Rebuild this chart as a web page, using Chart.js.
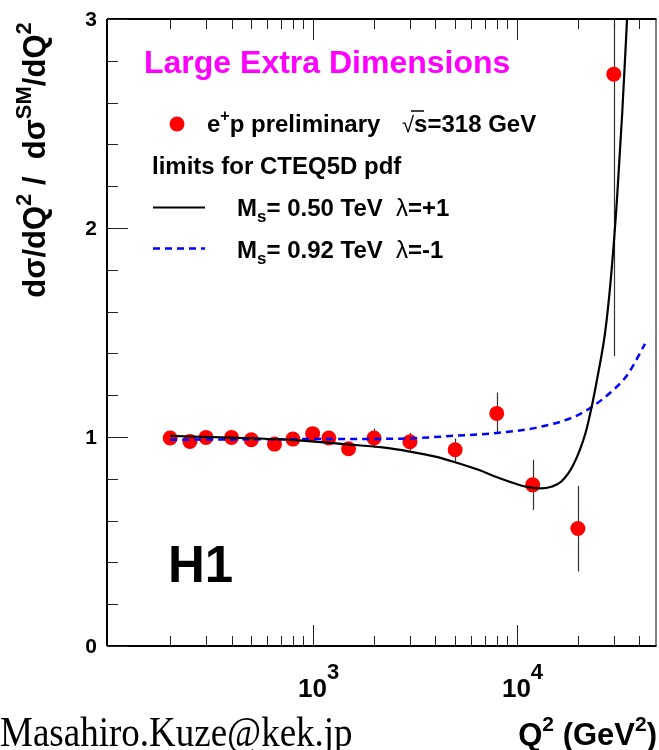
<!DOCTYPE html>
<html>
<head>
<meta charset="utf-8">
<script src="https://cdn.jsdelivr.net/npm/chart.js@4/dist/chart.umd.min.js"></script>
<style>
html,body{margin:0;padding:0;background:#fff;}
#wrap{position:relative;width:659px;height:750px;}
</style>
</head>
<body>
<div id="wrap"><canvas id="c" width="659" height="750"></canvas></div>
<script>
// ---- data ----
const qValues   = [200, 250, 300, 400, 500, 650, 800, 1000, 1200, 1500, 2000, 3000, 5000, 8000, 12000, 20000, 30000];
const ratioVals = [0.995, 0.979, 0.998, 0.998, 0.987, 0.966, 0.990, 1.016, 0.995, 0.944, 0.995, 0.977, 0.939, 1.113, 0.771, 0.562, 2.736];
const ratioErrs = [0.010, 0.012, 0.013, 0.014, 0.016, 0.018, 0.020, 0.022, 0.025, 0.030, 0.046, 0.042, 0.054, 0.100, 0.120, 0.205, 1.35];

const curvePlusQ   = [200, 400, 850, 1550, 2200, 3000, 4000, 5000, 6500, 8400, 10000, 11400, 13200, 14800, 16600, 19000, 21800, 23400, 25000, 27200, 29100, 31100, 33000, 34850];
const curvePlusVal = [1.005, 0.997, 0.984, 0.963, 0.950, 0.930, 0.906, 0.879, 0.843, 0.800, 0.775, 0.760, 0.754, 0.762, 0.787, 0.867, 1.019, 1.147, 1.291, 1.500, 1.770, 2.137, 2.55, 3.0];

const curveMinusQ   = [200, 1000, 2700, 5000, 8000, 13000, 19000, 23000, 29000, 35000, 42700];
const curveMinusVal = [0.987, 0.990, 0.992, 1.006, 1.019, 1.048, 1.095, 1.139, 1.214, 1.298, 1.446];

const yTickLabels = ['0', '1', '2', '3'];
const xMajorTicks = [1000, 10000];
const xExponents  = ['3', '4'];
const xMin = 98, xMax = 48600;

// ---- helpers ----
const pts = (xs, ys) => xs.map((x, i) => ({x: x, y: ys[i]}));
const F = 'Liberation Sans, Arial, Helvetica, sans-serif';

function richWidth(ctx, parts){
  let w = 0;
  parts.forEach(p => { ctx.font = (p.bold===false?'':'bold ') + p.size + 'px ' + (p.family||F); w += ctx.measureText(p.t).width; });
  return w;
}
function drawRich(ctx, x, y, parts, align){
  let w = richWidth(ctx, parts);
  let cx = align === 'center' ? x - w/2 : (align === 'right' ? x - w : x);
  ctx.textBaseline = 'alphabetic';
  ctx.textAlign = 'left';
  parts.forEach(p => {
    ctx.font = (p.bold===false?'':'bold ') + p.size + 'px ' + (p.family||F);
    ctx.fillStyle = p.color || '#000';
    ctx.fillText(p.t, cx, y + (p.dy||0));
    cx += ctx.measureText(p.t).width;
  });
}

const framePlugin = {
  id: 'frame',
  beforeDatasetsDraw(chart){
    const ctx = chart.ctx, xs = chart.scales.x, ys = chart.scales.y, a = chart.chartArea;
    ctx.save();
    ctx.beginPath(); ctx.rect(a.left, a.top, a.right-a.left, a.bottom-a.top); ctx.clip();
    ctx.strokeStyle = '#333'; ctx.lineWidth = 1.2;
    qValues.forEach((q, i) => {
      const px = Math.round(xs.getPixelForValue(q)) + 0.5;
      ctx.beginPath();
      ctx.moveTo(px, ys.getPixelForValue(ratioVals[i] + ratioErrs[i]));
      ctx.lineTo(px, ys.getPixelForValue(ratioVals[i] - ratioErrs[i]));
      ctx.stroke();
    });
    ctx.restore();
  },
  afterDraw(chart){
    const ctx = chart.ctx, xs = chart.scales.x, ys = chart.scales.y, a = chart.chartArea;
    ctx.save();
    ctx.strokeStyle = '#000';
    ctx.lineWidth = 2;
    ctx.beginPath();
    ctx.moveTo(a.left, a.top); ctx.lineTo(a.right, a.top);
    ctx.moveTo(a.left, a.top); ctx.lineTo(a.left, a.bottom);
    ctx.moveTo(a.left, a.bottom); ctx.lineTo(a.right, a.bottom);
    ctx.stroke();
    ctx.lineWidth = 1;
    ctx.beginPath(); ctx.moveTo(a.right-0.5, a.top); ctx.lineTo(a.right-0.5, a.bottom); ctx.stroke();

    ctx.lineWidth = 1;
    ctx.strokeStyle = '#222';
    for (let dec = 100; dec <= 10000; dec *= 10){
      for (let m = 1; m <= 9; m++){
        const v = dec * m;
        if (v <= 100 || v >= xMax) continue;
        const px = Math.round(xs.getPixelForValue(v)) + 0.5;
        const len = (m === 1) ? 21 : 10;
        ctx.beginPath();
        ctx.moveTo(px, a.bottom); ctx.lineTo(px, a.bottom - len);
        ctx.moveTo(px, a.top); ctx.lineTo(px, a.top + len);
        ctx.stroke();
      }
    }
    for (let k = 0; k <= 15; k++){
      const v = k * 0.2;
      const py = Math.round(ys.getPixelForValue(v)) + 0.5;
      const len = (k % 5 === 0) ? 21 : 11;
      ctx.beginPath(); ctx.moveTo(a.left, py); ctx.lineTo(a.left + len, py); ctx.stroke();
    }
    ctx.fillStyle = '#000';
    ctx.font = 'bold 21px ' + F;
    ctx.textAlign = 'right'; ctx.textBaseline = 'middle';
    yTickLabels.forEach(t => {
      ctx.fillText(t, a.left - 10, ys.getPixelForValue(parseFloat(t)) + 1);
    });
    xMajorTicks.forEach((v, i) => {
      const px = xs.getPixelForValue(v);
      drawRich(ctx, px + 6, a.bottom + 51, [{t:'10', size:26}, {t:xExponents[i], size:22, dy:-18}], 'center');
    });

    ctx.save();
    ctx.translate(45, 160);
    ctx.rotate(-Math.PI/2);
    drawRich(ctx, 0, 0, [
      {t:'d\u03C3/dQ', size:31}, {t:'2', size:22, dy:-14}, {t:' /  d\u03C3', size:31},
      {t:'SM', size:22, dy:-14}, {t:'/dQ', size:31}, {t:'2', size:22, dy:-14}
    ], 'center');
    ctx.restore();

    drawRich(ctx, 657, 745, [
      {t:'Q', size:31}, {t:'2', size:21, dy:-14}, {t:' (GeV', size:31}, {t:'2', size:21, dy:-14}, {t:')', size:31}
    ], 'right');

    ctx.save();
    ctx.translate(0, 746);
    ctx.scale(1, 1.15);
    ctx.font = '37px "Liberation Serif", "Times New Roman", serif';
    ctx.textAlign = 'left'; ctx.textBaseline = 'alphabetic'; ctx.fillStyle = '#000';
    ctx.fillText('Masahiro.Kuze@kek.jp', 0, 0);
    ctx.restore();

    ctx.font = 'bold 32px ' + F;
    ctx.fillStyle = '#ff00ff';
    ctx.textAlign = 'left'; ctx.textBaseline = 'alphabetic';
    ctx.fillText('Large Extra Dimensions', 144, 73);

    ctx.fillStyle = '#ff0000';
    ctx.beginPath(); ctx.arc(177, 124, 7.5, 0, Math.PI*2); ctx.fill();
    drawRich(ctx, 207, 132, [{t:'e', size:24}, {t:'+', size:16, dy:-11}, {t:'p preliminary', size:24}], 'left');
    drawRich(ctx, 402, 132, [{t:'\u221A', size:22, bold:false}, {t:'s=318 GeV', size:24}], 'left');
    ctx.strokeStyle = '#000'; ctx.lineWidth = 1.5;
    ctx.beginPath(); ctx.moveTo(411, 111); ctx.lineTo(424, 111); ctx.stroke();
    drawRich(ctx, 152, 174, [{t:'limits for CTEQ5D pdf', size:24}], 'left');

    ctx.strokeStyle = '#000'; ctx.lineWidth = 2.2; ctx.setLineDash([]);
    ctx.beginPath(); ctx.moveTo(153, 207.5); ctx.lineTo(205, 207.5); ctx.stroke();
    drawRich(ctx, 237, 216, [{t:'M', size:24}, {t:'s', size:17, dy:6}, {t:'= 0.50 TeV  ', size:24}, {t:'\u03BB', size:24, bold:false}, {t:'=+1', size:24}], 'left');

    ctx.strokeStyle = '#0000ff'; ctx.lineWidth = 2.5; ctx.setLineDash([7,5]);
    ctx.beginPath(); ctx.moveTo(153, 248.5); ctx.lineTo(205, 248.5); ctx.stroke();
    ctx.setLineDash([]);
    drawRich(ctx, 237, 258, [{t:'M', size:24}, {t:'s', size:17, dy:6}, {t:'= 0.92 TeV  ', size:24}, {t:'\u03BB', size:24, bold:false}, {t:'=-1', size:24}], 'left');

    ctx.font = 'bold 51px ' + F;
    ctx.fillStyle = '#000';
    ctx.fillText('H1', 168, 582);
    ctx.restore();
  }
};

new Chart(document.getElementById('c'), {
  type: 'scatter',
  data: {
    datasets: [
      { label: 'e+p preliminary', data: pts(qValues, ratioVals), backgroundColor: '#ff0000', borderWidth: 0,
        pointRadius: 7.5, pointHoverRadius: 7.5, order: 2 },
      { type: 'line', label: 'Ms=0.50 TeV lambda=+1', data: pts(curvePlusQ, curvePlusVal), borderColor: '#000',
        borderWidth: 2.2, pointRadius: 0, fill: false, cubicInterpolationMode: 'monotone', order: 0 },
      { type: 'line', label: 'Ms=0.92 TeV lambda=-1', data: pts(curveMinusQ, curveMinusVal), borderColor: '#0000ff',
        borderWidth: 2.5, borderDash: [7,5], pointRadius: 0, fill: false, cubicInterpolationMode: 'monotone', order: 1 }
    ]
  },
  options: {
    responsive: false,
    devicePixelRatio: 1,
    animation: false,
    events: [],
    layout: { autoPadding: false, padding: { left: 107, top: 19, right: 2.5, bottom: 104 } },
    plugins: { legend: { display: false }, tooltip: { enabled: false } },
    scales: {
      x: { type: 'logarithmic', min: xMin, max: xMax, display: false },
      y: { type: 'linear', min: 0, max: 3, display: false }
    }
  },
  plugins: [framePlugin]
});
</script>
</body>
</html>
